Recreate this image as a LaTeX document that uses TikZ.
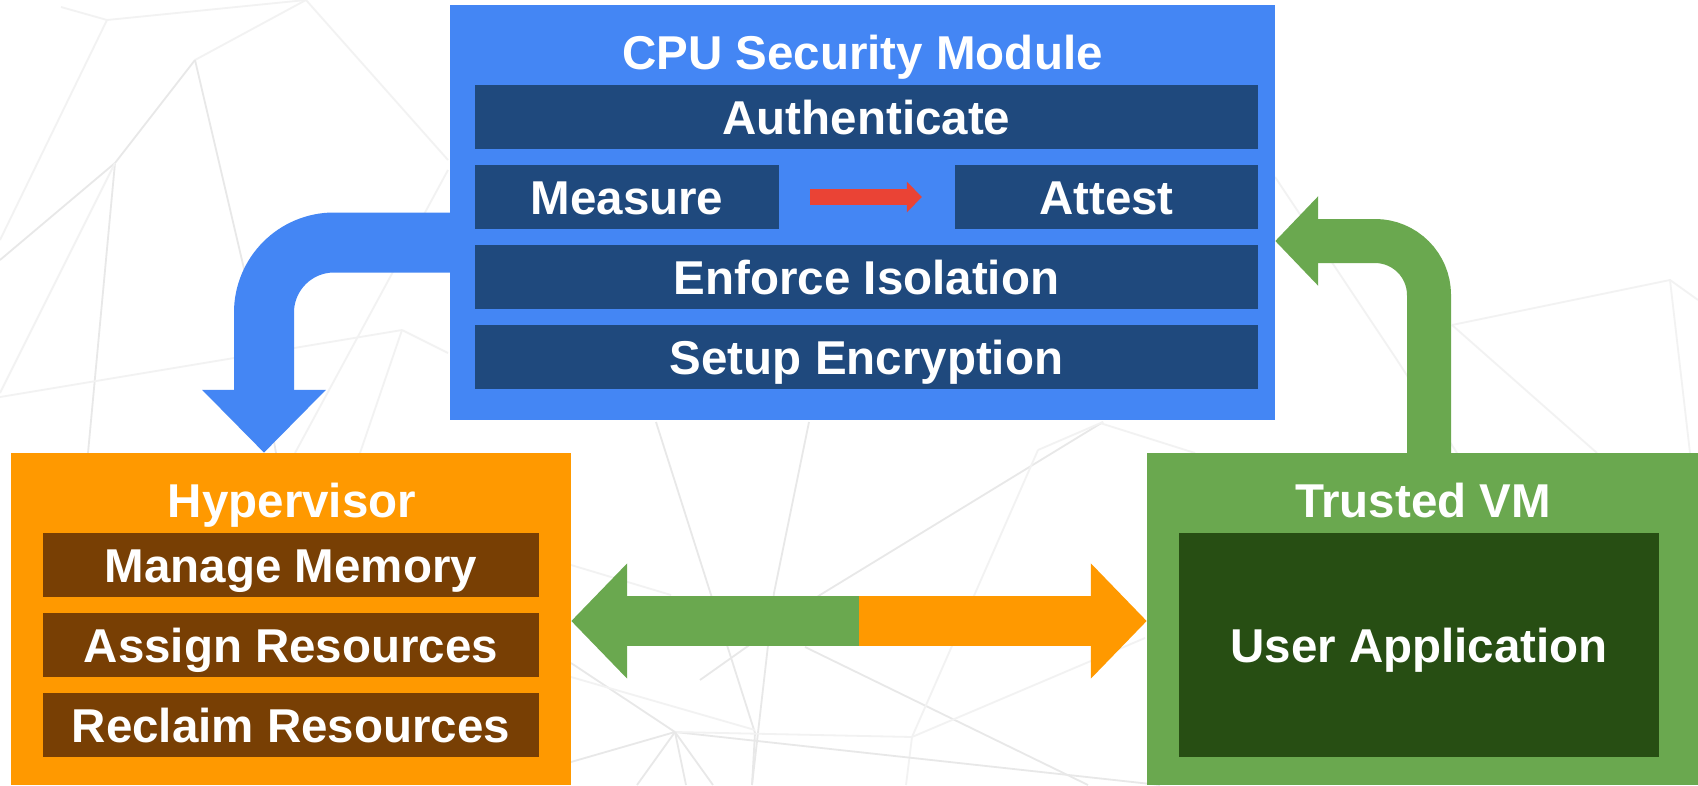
\documentclass[tikz,border=0pt]{standalone}
\usepackage{fontspec}
\setmainfont{Liberation Sans}
\usetikzlibrary{arrows.meta}
\definecolor{cpublue}{HTML}{4486F4}
\definecolor{cpudark}{HTML}{1F497D}
\definecolor{hvorange}{HTML}{FF9900}
\definecolor{hvbrown}{HTML}{783F04}
\definecolor{vmgreen}{HTML}{6AA84F}
\definecolor{vmdark}{HTML}{274E13}
\definecolor{arrowred}{HTML}{EA4335}
\definecolor{bgline}{HTML}{E8E8E8}
\definecolor{bglight}{HTML}{F2F2F2}
\begin{document}
\begin{tikzpicture}[x=1pt,y=-1pt,
  box/.style={fill=#1, draw=none, inner sep=0pt},
  lbl/.style={text=white, font=\bfseries\fontsize{47.5}{57}\selectfont, text height=34pt, text depth=0pt, inner sep=0pt},
  bg/.style={bgline, line width=1.8pt},
  bgf/.style={bglight, line width=1.8pt},
]
\fill[white] (0,0) rectangle (1698,785);
\useasboundingbox (0,0) rectangle (1698,785);

% faint background network
\draw[bgf] (61,7) -- (107,20) -- (306,0);
\draw[bgf] (195,60) -- (306,0);
\draw[bgf] (107,20) -- (0,240);
\draw[bg] (195,60) -- (115,163) -- (0,260);
\draw[bg] (115,163) -- (88,453);
\draw[bgf] (115,163) -- (0,393);
\draw[bg] (195,60) -- (245,273) -- (276,453);
\draw[bgf] (306,0) -- (448,160);
\draw[bgf] (402,330) -- (0,397);
\draw[bgf] (402,330) -- (448,353);
\draw[bgf] (448,170) -- (295,453);
\draw[bgf] (402,330) -- (360,453);
\draw[bgf] (571,565) -- (671,595);
\draw[bg] (656,422) -- (755,733) -- (752,785);
\draw[bg] (809,422) -- (774,593) -- (752,785);
\draw[bg] (1103,422) -- (820,595) -- (700,680);
\draw[bg] (805,647) -- (1088,785);
\draw[bgf] (1145,638) -- (912,737) -- (906,785);
\draw[bgf] (1038,450) -- (912,737);
\draw[bgf] (1038,450) -- (1103,422);
\draw[bg] (571,762) -- (675,732) -- (571,663);
\draw[bg] (675,732) -- (1160,785);
\draw[bgf] (675,732) -- (912,737);
\draw[bg] (675,732) -- (637,785);
\draw[bg] (675,732) -- (686,785);
\draw[bg] (675,732) -- (713,785);
\draw[bgf] (571,677) -- (755,730);
\draw[bgf] (1100,423) -- (1195,453);
\draw[bgf] (1275,177) -- (1397,360) -- (1457,453);
\draw[bgf] (1452,325) -- (1670,280) -- (1698,300);
\draw[bgf] (1452,325) -- (1597,453);
\draw[bgf] (1670,280) -- (1690,453);

% CPU security module
\node[box=cpublue, minimum width=825pt, minimum height=415pt] (cpu) at (862.5,212.5) {};
\node[lbl] (cputitle) at (862.5,52) {CPU Security Module};
\node[box=cpudark, lbl, minimum width=783pt, minimum height=64pt] (auth) at (866.5,117) {Authenticate};
\node[box=cpudark, lbl, minimum width=304pt, minimum height=64pt] (measure) at (627,197) {Measure};
\node[box=cpudark, lbl, minimum width=303pt, minimum height=64pt] (attest) at (1106.5,197) {Attest};
\node[box=cpudark, lbl, minimum width=783pt, minimum height=64pt] (enforce) at (866.5,277) {Enforce Isolation};
\node[box=cpudark, lbl, minimum width=783pt, minimum height=64pt] (setup) at (866.5,357) {Setup Encryption};

% Hypervisor
\node[box=hvorange, minimum width=560pt, minimum height=332pt] (hyp) at (291,619) {};
\node[lbl] (hyptitle) at (292,500) {Hypervisor};
\node[box=hvbrown, lbl, minimum width=496pt, minimum height=64pt] (manage) at (291,565) {Manage Memory};
\node[box=hvbrown, lbl, minimum width=496pt, minimum height=64pt] (assign) at (291,645) {Assign Resources};
\node[box=hvbrown, lbl, minimum width=496pt, minimum height=64pt] (reclaim) at (291,725) {Reclaim Resources};

% Trusted VM
\node[box=vmgreen, minimum width=551pt, minimum height=332pt] (tvm) at (1422.5,619) {};
\node[lbl] (tvmtitle) at (1423,500) {Trusted VM};
\node[box=vmdark, lbl, minimum width=480pt, minimum height=224pt] (app) at (1419,645) {User Application};

% red arrow Measure -> Attest
\draw[arrowred, line width=16pt, -{Triangle[length=15pt,width=30pt]}, shorten <=31pt, shorten >=33pt] (measure.east) -- (attest.west);

% blue bent arrow CPU -> Hypervisor
\coordinate (bstart) at (cpu.west |- 0,242.5);
\coordinate (bend) at (264,0 |- hyp.north);
\draw[cpublue, line width=60pt, rounded corners=70pt, -{Triangle[length=63pt,width=120pt]}] (bstart) -| (bend);

% green bent arrow Trusted VM -> CPU
\coordinate (gstart) at (1429,0 |- tvm.north);
\coordinate (gend) at (cpu.east |- 0,241);
\draw[vmgreen, line width=44pt, rounded corners=54pt, -{Triangle[length=43pt,width=87pt]}] (gstart) |- (gend);

% double arrow between Hypervisor and Trusted VM
\coordinate (split) at (859,621);
\draw[vmgreen, line width=50pt, -{Triangle[length=56pt,width=112pt]}] (split) -- (hyp.east |- split);
\draw[hvorange, line width=50pt, -{Triangle[length=56pt,width=112pt]}] (split) -- (tvm.west |- split);
\end{tikzpicture}
\end{document}
